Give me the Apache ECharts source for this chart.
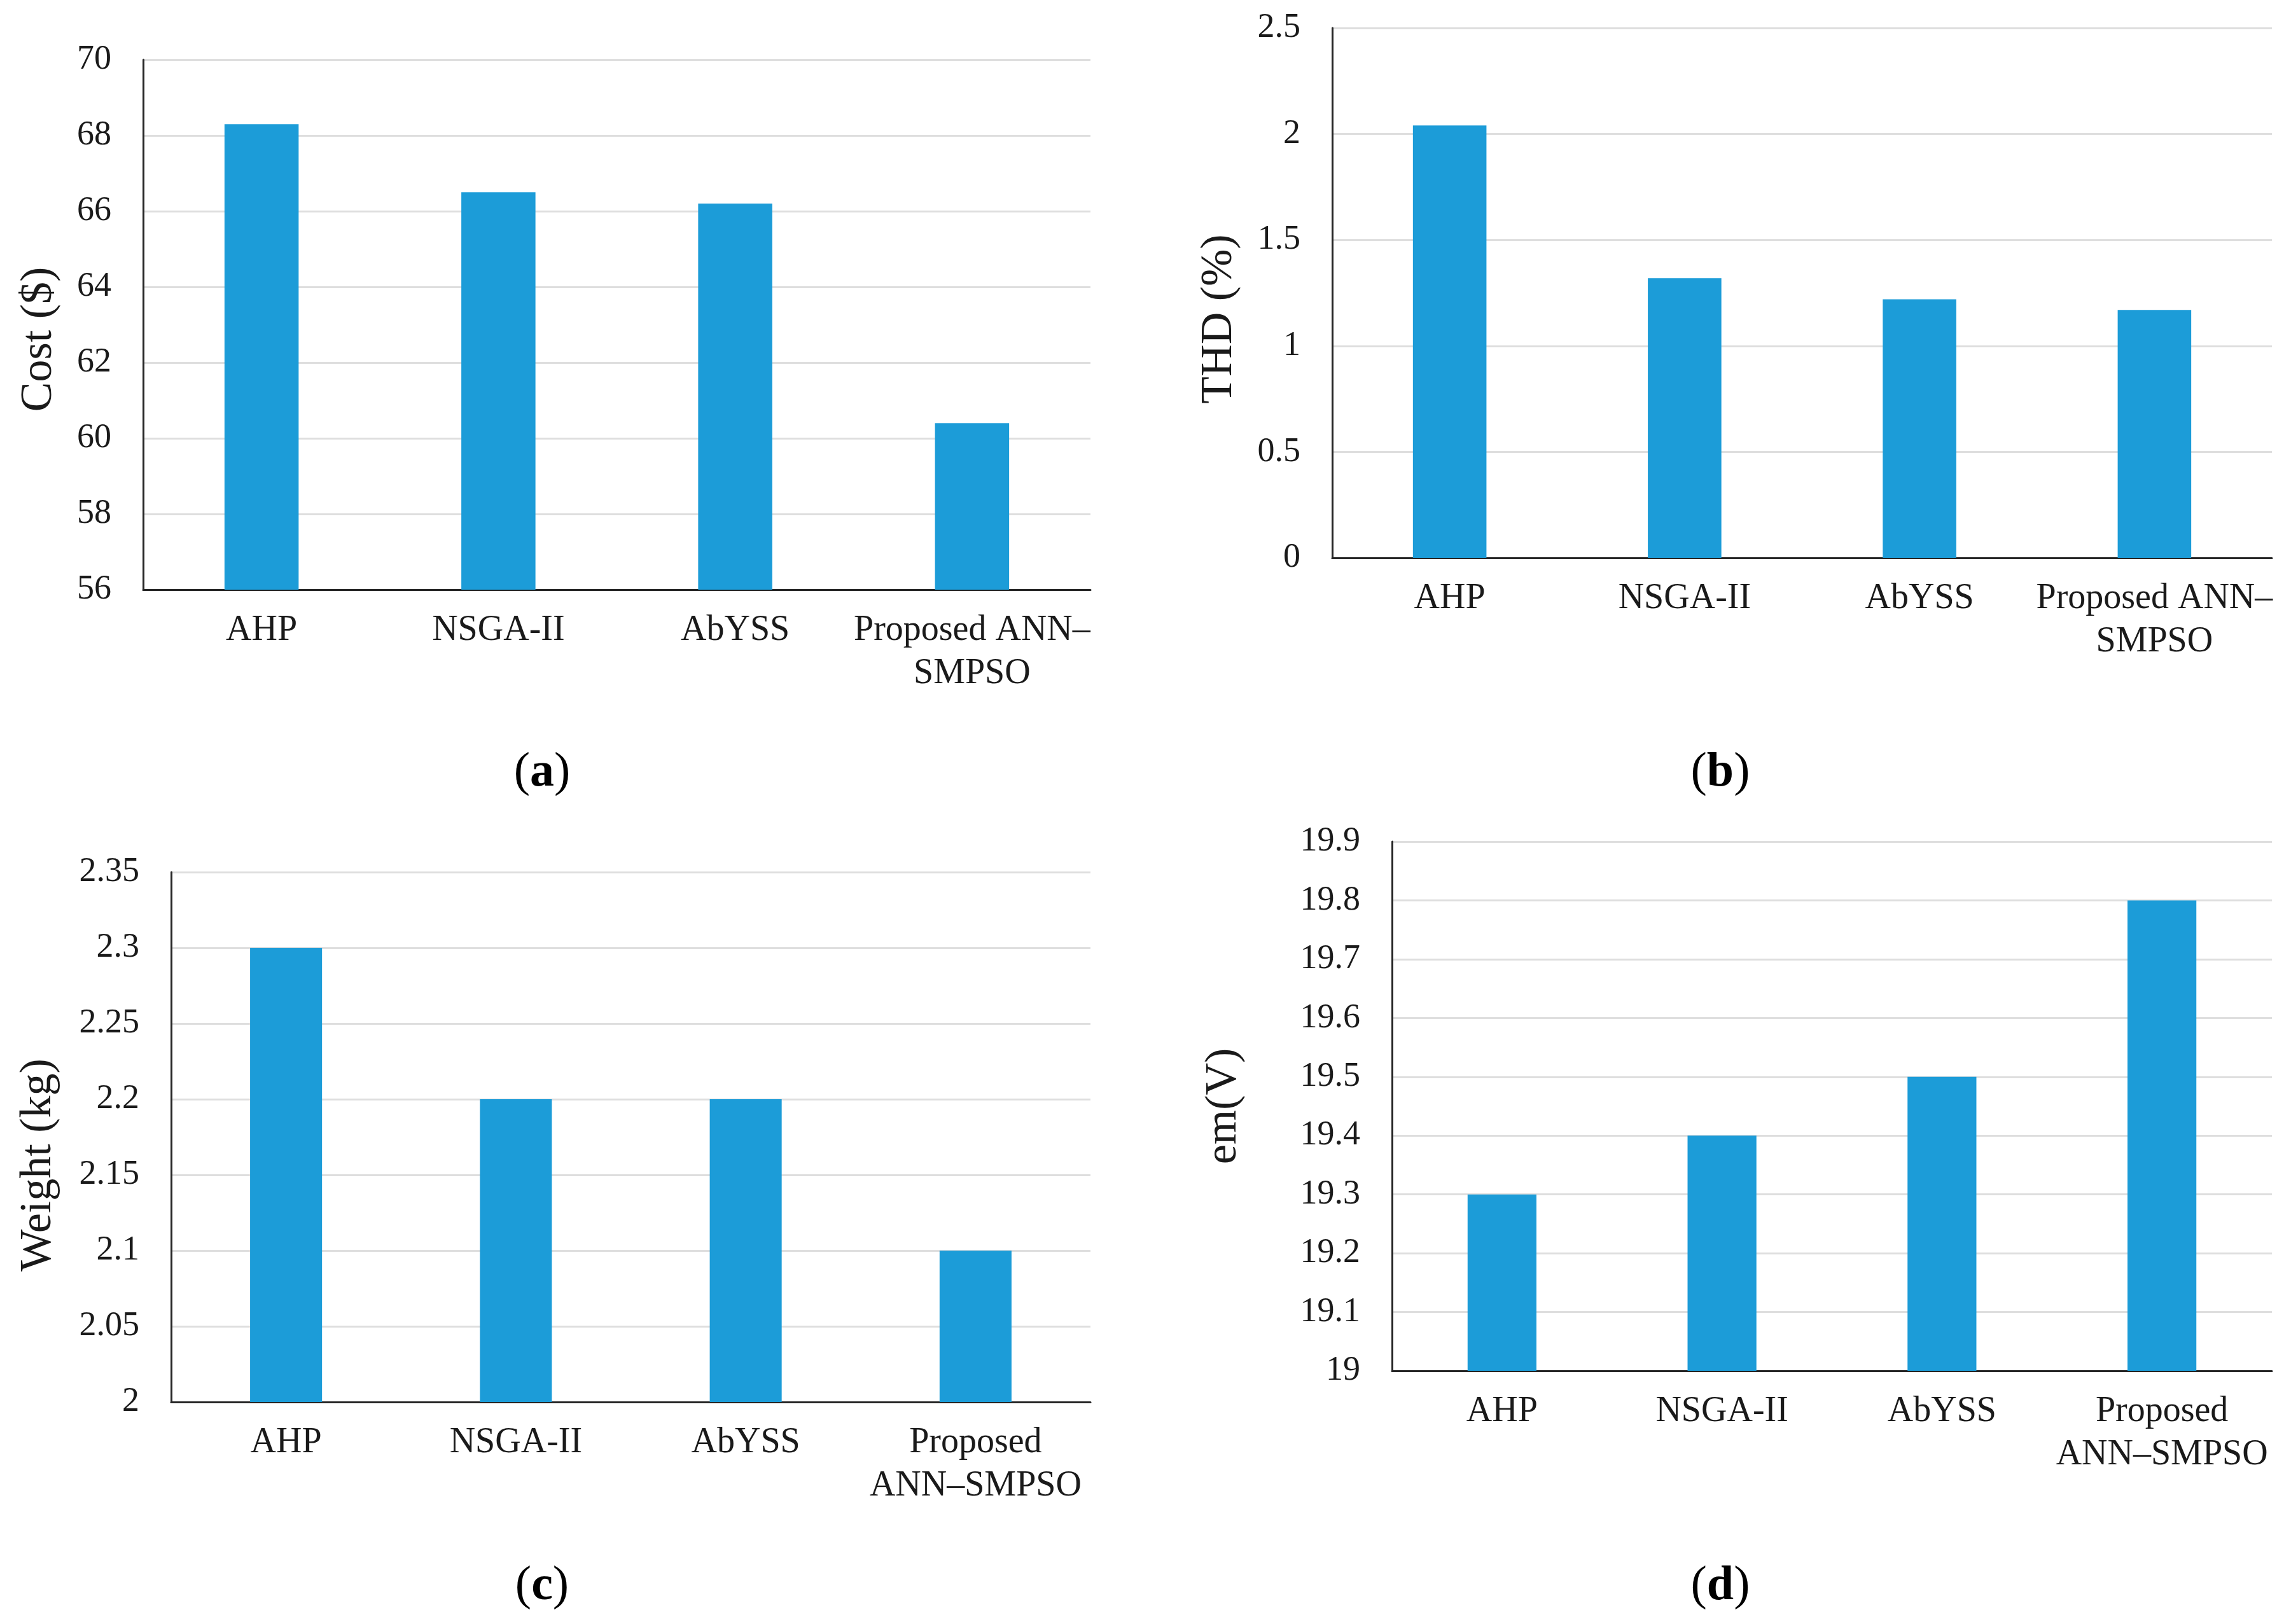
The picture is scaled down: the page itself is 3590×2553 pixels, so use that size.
<!DOCTYPE html>
<html>
<head>
<meta charset="utf-8">
<script src="https://cdn.jsdelivr.net/npm/echarts@6/dist/echarts.min.js"></script>
<style>html,body{margin:0;padding:0;background:#fff}#c{width:3590px;height:2553px}</style>
</head>
<body>
<div id="c"></div>
<script>
const categoriesAB = ['AHP', 'NSGA-II', 'AbYSS', 'Proposed ANN–\nSMPSO'];
const categoriesCD = ['AHP', 'NSGA-II', 'AbYSS', 'Proposed\nANN–SMPSO'];
const costValues = [68.3, 66.5, 66.2, 60.4];
const thdValues = [2.04, 1.32, 1.22, 1.17];
const weightValues = [2.3, 2.2, 2.2, 2.1];
const emValues = [19.3, 19.4, 19.5, 19.8];
const yTitles = ['Cost ($)', 'THD (%)', 'Weight (kg)', 'em(V)'];
const captions = ['a', 'b', 'c', 'd'];

const FONT = '"Liberation Serif", "Times New Roman", serif';
const BAR = '#1c9cd8';
const chart = echarts.init(document.getElementById('c'));

const grids = [
  {left: 225, top: 94, width: 1489, height: 833},
  {left: 2094, top: 44, width: 1477, height: 833},
  {left: 269, top: 1371, width: 1445, height: 833},
  {left: 2188, top: 1323, width: 1383, height: 832}
];
const yCfg = [
  {min: 56, max: 70, interval: 2, gap: 128, shift: 46},
  {min: 0, max: 2.5, interval: 0.5, gap: 142, shift: 82},
  {min: 2, max: 2.35, interval: 0.05, gap: 173, shift: 88},
  {min: 19, max: 19.9, interval: 0.1, gap: 229, shift: 0}
];
const cats = [categoriesAB, categoriesAB, categoriesCD, categoriesCD];
const vals = [costValues, thdValues, weightValues, emValues];

const option = {
  backgroundColor: '#fff',
  animation: false,
  grid: grids.map(g => Object.assign({containLabel: false}, g)),
  xAxis: cats.map((c, i) => ({
    type: 'category', gridIndex: i, data: c,
    axisLine: {show: true, lineStyle: {color: '#262626', width: 3}},
    axisTick: {show: false},
    axisLabel: {fontFamily: FONT, fontSize: 56, color: '#1a1a1a', margin: 30, lineHeight: 68, interval: 0}
  })),
  yAxis: yCfg.map((y, i) => ({
    type: 'value', gridIndex: i, min: y.min, max: y.max, interval: y.interval,
    name: yTitles[i], nameLocation: 'middle', nameGap: y.gap,
    nameTextStyle: {fontFamily: FONT, fontSize: 70, color: '#1a1a1a', padding: [0, y.shift, 0, 0]},
    axisLine: {show: true, lineStyle: {color: '#262626', width: 3}},
    axisTick: {show: false},
    splitLine: {show: true, lineStyle: {color: '#dedede', width: 3}},
    axisLabel: {fontFamily: FONT, fontSize: 54, color: '#1a1a1a', margin: 50,
      formatter: v => String(Math.round(v * 1000) / 1000)}
  })),
  series: vals.map((v, i) => ({
    type: 'bar', xAxisIndex: i, yAxisIndex: i, data: v,
    barWidth: '31.3%', itemStyle: {color: BAR}
  })),
  title: captions.map((c, i) => ({
    text: '(' + '{b|' + c + '})',
    left: [847, 2699, 847, 2699][i], top: [1210, 1210, 2489, 2489][i],
    textAlign: 'center', textVerticalAlign: 'middle',
    textStyle: {fontFamily: FONT, fontSize: 76, fontWeight: 'normal', color: '#000',
      rich: {b: {fontFamily: FONT, fontSize: 76, fontWeight: 'bold', color: '#000'}}}
  }))
};
chart.setOption(option);
</script>
</body>
</html>
